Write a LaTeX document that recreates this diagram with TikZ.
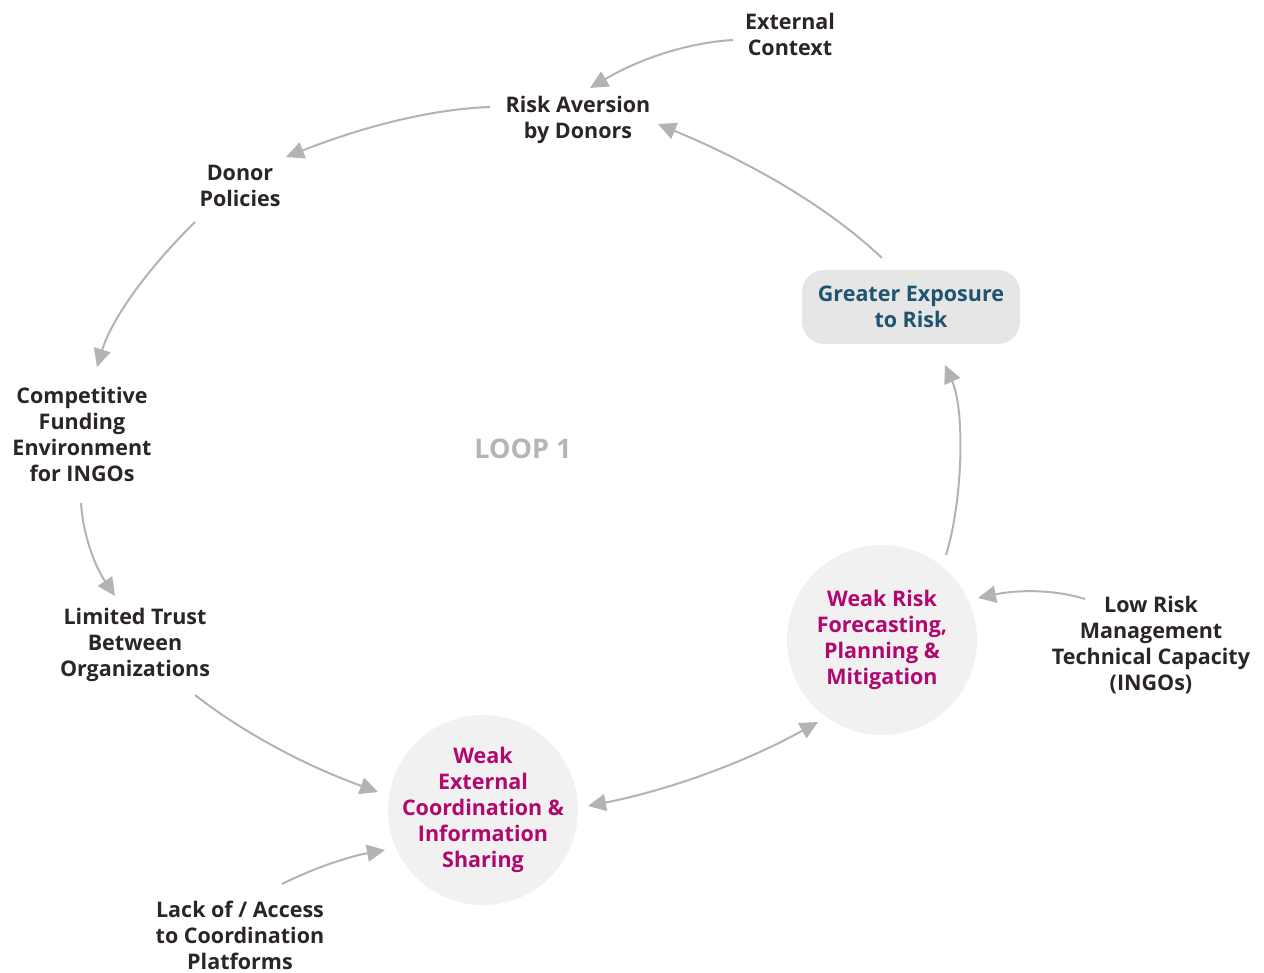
\documentclass[tikz,border=0pt]{standalone}
\usepackage{fontspec}
\setmainfont{Open Sans}
\usetikzlibrary{calc,arrows.meta}
\definecolor{txt}{HTML}{2B2527}
\definecolor{mag}{HTML}{B0086E}
\definecolor{blu}{HTML}{1F546E}
\definecolor{arrgray}{HTML}{B3B3B3}
\definecolor{circfill}{HTML}{F1F1F1}
\definecolor{boxfill}{HTML}{E6E6E6}
\definecolor{loopgray}{HTML}{B5B5B5}
\tikzset{
  lbl/.style={align=center, text=txt, font=\fontsize{21.5}{26}\selectfont\bfseries, inner sep=0pt},
  circ/.style={circle, fill=circfill, minimum size=190pt, inner sep=-14pt, align=center, text=mag, font=\fontsize{21.5}{26}\selectfont\bfseries},
  gbox/.style={rounded corners=22pt, fill=boxfill, minimum width=218pt, minimum height=74pt, align=center, text=blu, font=\fontsize{21.5}{26}\selectfont\bfseries},
  arr/.style={draw=arrgray, line width=2pt, -{Triangle[length=18pt,width=17pt]}, fill=none},
  darr/.style={draw=arrgray, line width=2pt, {Triangle[length=18pt,width=17pt]}-{Triangle[length=18pt,width=17pt]}}
}
\begin{document}
\begin{tikzpicture}[x=1pt,y=-1pt]
\useasboundingbox (0,0) rectangle (1264,973);
\node[lbl] (ext) at (790,34) {External\\Context};
\node[lbl] (risk) at (578,120) {Risk Aversion\\by Donors};
\node[lbl] (donor) at (240,186) {Donor\\Policies};
\node[lbl] (comp) at (82,434) {Competitive\\Funding\\Environment\\for INGOs};
\node[lbl] (trust) at (135,645) {Limited Trust\\Between\\Organizations};
\node[lbl] (low) at (1151,645) {Low Risk\\Management\\Technical Capacity\\(INGOs)};
\node[lbl] (lack) at (240,935) {Lack of / Access\\to Coordination\\Platforms};
\node[circ] (wec) at (483,810) {Weak\\External\\Coordination \&\\Information\\Sharing};
\node[circ] (wrf) at (882,640) {Weak Risk\\Forecasting,\\Planning \&\\Mitigation};
\node[gbox] (ger) at (911,307) {Greater Exposure\\to Risk};
\node[text=loopgray, font=\fontsize{27}{30}\selectfont\bfseries, inner sep=0pt] (loop) at (523,449) {LOOP 1};

% connector end points, placed relative to the nodes
\coordinate (a1) at ($(ext)+(-57,6)$);    \coordinate (b1) at ($(risk)+(12,-32)$);
\coordinate (a2) at ($(risk)+(-88,-13)$); \coordinate (b2) at ($(donor)+(46,-29)$);
\coordinate (a3) at ($(donor)+(-45,36)$); \coordinate (b3) at ($(comp)+(15,-67)$);
\coordinate (a4) at ($(comp)+(-1,69)$);   \coordinate (b4) at ($(trust)+(-20,-49)$);
\coordinate (a5) at ($(trust)+(60,50)$);  \coordinate (b5) at ($(wec)+(-105,-18)$);
\coordinate (a6) at ($(lack)+(42,-51)$);  \coordinate (b6) at ($(wec)+(-98,40)$);
\coordinate (a7) at ($(wec)+(105,-4)$);   \coordinate (b7) at ($(wrf)+(-64,82)$);
\coordinate (a8) at ($(low)+(-66,-46)$);  \coordinate (b8) at ($(wrf)+(96,-42)$);
\coordinate (a9) at ($(wrf)+(64,-85)$);   \coordinate (b9) at ($(ger)+(34,58)$);
\coordinate (a10) at ($(ger)+(-29,-49)$); \coordinate (b10) at ($(risk)+(80,4)$);

\draw[arr] (a1) .. controls ($(a1)!2/3!(665,44)$) and ($(b1)!2/3!(665,44)$) .. (b1);
\draw[arr] (a2) .. controls ($(a2)!2/3!(405,110)$) and ($(b2)!2/3!(405,110)$) .. (b2);
\draw[arr] (a3) .. controls ($(a3)!2/3!(118,298)$) and ($(b3)!2/3!(118,298)$) .. (b3);
\draw[arr] (a4) .. controls ($(a4)!2/3!(84,550)$) and ($(b4)!2/3!(84,550)$) .. (b4);
\draw[arr] (a5) .. controls ($(a5)!2/3!(268,752)$) and ($(b5)!2/3!(268,752)$) .. (b5);
\draw[arr] (a6) .. controls ($(a6)!2/3!(330,860)$) and ($(b6)!2/3!(330,860)$) .. (b6);
\draw[darr] (a7) .. controls ($(a7)!2/3!(710,782)$) and ($(b7)!2/3!(710,782)$) .. (b7);
\draw[arr] (a8) .. controls ($(a8)!2/3!(1040,585)$) and ($(b8)!2/3!(1040,585)$) .. (b8);
\draw[arr] (a9) .. controls (963,500) and (965,410) .. (b9);
\draw[arr] (a10) .. controls ($(a10)!2/3!(805,185)$) and ($(b10)!2/3!(805,185)$) .. (b10);
\end{tikzpicture}
\end{document}
